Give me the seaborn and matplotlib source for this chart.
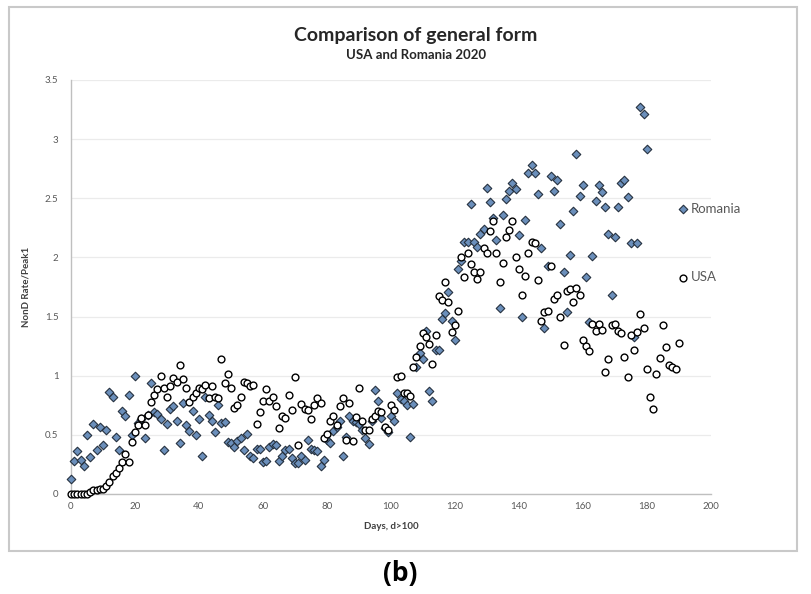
import numpy as np
import pandas as pd
import matplotlib
matplotlib.use("Agg")
import matplotlib.pyplot as plt
import seaborn as sns
from matplotlib.patches import Rectangle

# NonD rate / Peak1 (day index = position in list)
romania = [
    0.13, 0.28, 0.36, 0.29, 0.24, 0.50, 0.31, 0.59, 0.37, 0.57,
    0.41, 0.54, 0.86, 0.82, 0.48, 0.37, 0.70, 0.66, 0.84, 0.50,
    1.00, 0.60, 0.63, 0.47, 0.67, 0.94, 0.69, 0.68, 0.63, 0.37,
    0.59, 0.72, 0.74, 0.62, 0.43, 0.77, 0.58, 0.53, 0.70, 0.50,
    0.63, 0.32, 0.82, 0.67, 0.62, 0.52, 0.75, 0.60, 0.61, 0.44,
    0.43, 0.40, 0.45, 0.47, 0.37, 0.51, 0.32, 0.30, 0.38, 0.38,
    0.27, 0.28, 0.40, 0.42, 0.41, 0.28, 0.32, 0.37, 0.38, 0.30,
    0.26, 0.26, 0.32, 0.29, 0.46, 0.38, 0.37, 0.36, 0.24, 0.29,
    0.46, 0.43, 0.53, 0.57, 0.62, 0.32, 0.48, 0.66, 0.62, 0.61,
    0.59, 0.54, 0.47, 0.42, 0.62, 0.88, 0.79, 0.64, 0.56, 0.52,
    0.66, 0.62, 0.85, 0.80, 0.79, 0.75, 0.48, 0.76, 1.07, 1.19,
    1.14, 1.38, 0.87, 0.79, 1.22, 1.22, 1.48, 1.53, 1.71, 1.46,
    1.30, 1.90, 1.97, 2.13, 2.13, 2.45, 2.13, 2.09, 2.20, 2.24,
    2.59, 2.47, 2.33, 2.15, 1.57, 2.36, 2.49, 2.56, 2.63, 2.58,
    2.19, 1.50, 2.32, 2.71, 2.78, 2.71, 2.54, 2.08, 1.40, 1.93,
    2.69, 2.56, 2.65, 2.28, 1.88, 1.54, 2.02, 2.39, 2.87, 2.52,
    2.61, 1.83, 1.45, 2.01, 2.48, 2.61, 2.55, 2.43, 2.20, 1.68,
    2.17, 2.43, 2.63, 2.65, 2.51, 2.12, 1.33, 2.12, 3.27, 3.21,
    2.92,
]

usa = [
    0.00, 0.00, 0.00, 0.00, 0.00, 0.00, 0.02, 0.03, 0.03, 0.04,
    0.04, 0.07, 0.10, 0.15, 0.18, 0.22, 0.27, 0.34, 0.27, 0.44,
    0.52, 0.58, 0.64, 0.58, 0.67, 0.78, 0.84, 0.89, 1.00, 0.90,
    0.82, 0.91, 0.98, 0.95, 1.09, 0.97, 0.90, 0.78, 0.82, 0.85,
    0.90, 0.89, 0.92, 0.81, 0.91, 0.82, 0.81, 1.14, 0.94, 1.01,
    0.90, 0.73, 0.75, 0.82, 0.95, 0.94, 0.91, 0.92, 0.59, 0.69,
    0.79, 0.89, 0.79, 0.82, 0.74, 0.56, 0.66, 0.64, 0.84, 0.71,
    0.99, 0.41, 0.76, 0.72, 0.71, 0.63, 0.75, 0.81, 0.77, 0.47,
    0.51, 0.62, 0.66, 0.58, 0.74, 0.81, 0.46, 0.77, 0.45, 0.65,
    0.90, 0.62, 0.54, 0.54, 0.63, 0.66, 0.70, 0.69, 0.57, 0.54,
    0.75, 0.71, 0.99, 1.00, 0.85, 0.85, 0.83, 1.07, 1.16, 1.25,
    1.36, 1.33, 1.27, 1.10, 1.34, 1.67, 1.64, 1.79, 1.62, 1.37,
    1.43, 1.55, 2.00, 1.83, 2.04, 1.94, 1.88, 1.82, 1.88, 2.08,
    2.04, 2.22, 2.31, 2.04, 1.79, 1.95, 2.17, 2.23, 2.31, 2.00,
    1.90, 1.68, 1.84, 2.04, 2.13, 2.12, 1.81, 1.46, 1.54, 1.55,
    1.93, 1.65, 1.68, 1.50, 1.26, 1.72, 1.73, 1.62, 1.74, 1.68,
    1.30, 1.25, 1.21, 1.44, 1.38, 1.44, 1.39, 1.03, 1.14, 1.43,
    1.44, 1.38, 1.36, 1.16, 0.99, 1.34, 1.22, 1.37, 1.52, 1.40,
    1.06, 0.82, 0.72, 1.01, 1.15, 1.43, 1.24, 1.09, 1.07, 1.06,
    1.28,
]

x_ticks = [0, 20, 40, 60, 80, 100, 120, 140, 160, 180, 200]
y_ticks = [0, 0.5, 1, 1.5, 2, 2.5, 3, 3.5]
y_labels = ["0", "0.5", "1", "1.5", "2", "2.5", "3", "3.5"]

df_ro = pd.DataFrame({"day": np.arange(len(romania)), "value": romania})
df_us = pd.DataFrame({"day": np.arange(len(usa)), "value": usa})

sns.set_style("white")
plt.rcParams["font.family"] = ["Lato", "DejaVu Sans"]

fig = plt.figure(figsize=(8.11, 5.94), dpi=100)
ax = fig.add_axes([0.0875, 0.1684, 0.789, 0.697])

# outer chart frame
fig.patches.append(Rectangle((0.011, 0.073), 0.972, 0.915, transform=fig.transFigure,
                             fill=False, edgecolor="#c9c9c9", linewidth=1.5))

sns.scatterplot(data=df_ro, x="day", y="value", ax=ax, marker="D", s=19,
                color="#6b8fbb", edgecolor="#25313f", linewidth=0.8,
                label="Romania", zorder=3, clip_on=False)
sns.scatterplot(data=df_us, x="day", y="value", ax=ax, marker="o", s=24,
                color="white", edgecolor="black", linewidth=1.0,
                label="USA", zorder=4, clip_on=False)

ax.set_xlim(0, 200)
ax.set_ylim(0, 3.5)
ax.set_xticks(x_ticks)
ax.set_yticks(y_ticks)
ax.set_yticklabels(y_labels)
ax.tick_params(axis="x", direction="in", length=3, color="#bfbfbf",
               labelsize=7, labelcolor="#595959", pad=6)
ax.tick_params(axis="y", direction="out", length=3, color="#bfbfbf",
               labelsize=7, labelcolor="#595959", pad=6)
ax.yaxis.grid(True, color="#ebebeb", linewidth=0.9)
ax.set_axisbelow(True)
for side in ["top", "right"]:
    ax.spines[side].set_visible(False)
for side in ["left", "bottom"]:
    ax.spines[side].set_color("#bfbfbf")
    ax.spines[side].set_linewidth(1.0)

ax.set_xlabel("Days, d>100", fontsize=7, fontweight="bold", color="#404040", labelpad=8)
ax.set_ylabel("NonD Rate/Peak1", fontsize=7, fontweight="bold", color="#404040", labelpad=10)

leg = ax.legend(loc="center left", bbox_to_anchor=(0.95, 0.606), frameon=False,
                labelspacing=4.3, handlelength=0.6, handletextpad=0.3,
                borderpad=0, borderaxespad=0, fontsize=9.5)
for t in leg.get_texts():
    t.set_color("#595959")

fig.text(0.513, 0.941, "Comparison of general form", ha="center", va="center",
         fontsize=14, fontweight="bold", color="#262626")
fig.text(0.513, 0.907, "USA and Romania 2020", ha="center", va="center",
         fontsize=9.5, fontweight="bold", color="#262626")
fig.text(0.494, 0.034, "(b)", ha="center", va="center", fontsize=19,
         fontweight="bold", color="black", family=["Open Sans", "DejaVu Sans"])

fig.savefig("out.png", dpi=100)
